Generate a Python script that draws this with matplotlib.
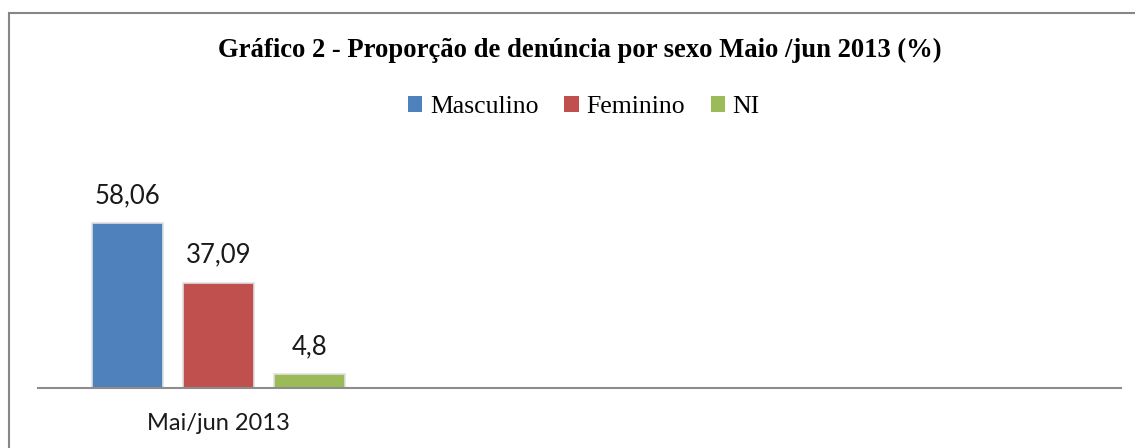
import matplotlib
matplotlib.use("Agg")
import matplotlib.pyplot as plt
from matplotlib.patches import Rectangle, Patch
import numpy as np

# Data
categories = ["Mai/jun 2013", "", ""]
series_names = ["Masculino", "Feminino", "NI"]
masculino = [58.06, np.nan, np.nan]
feminino = [37.09, np.nan, np.nan]
ni = [4.8, np.nan, np.nan]
title = "Gráfico 2 - Proporção de denúncia por sexo Maio /jun 2013 (%)"

colors = ["#4F81BD", "#C0504D", "#9BBB59"]
series = [masculino, feminino, ni]

W, H = 1135, 448
fig = plt.figure(figsize=(W / 100, H / 100), dpi=100)

# outer frame (cropped on right/bottom)
fig.patches.append(Rectangle((9 / W, -0.1), 1.2, 1 - 13 / H + 0.1,
                             transform=fig.transFigure, fill=False,
                             edgecolor="#868686", linewidth=1.5))

ax_left, ax_right = 38 / W, 1121 / W
ax_bottom, ax_top = 1 - 388 / H, 1 - 150 / H
ax = fig.add_axes([ax_left, ax_bottom, ax_right - ax_left, ax_top - ax_bottom])

x = np.arange(len(categories))
offsets = [-0.252, 0.0, 0.252]
width = 0.197
label_font = "Lato"
for vals, off, c in zip(series, offsets, colors):
    bars = ax.bar(x + off, vals, width, color=c, edgecolor="#e0e0e0", linewidth=1.2)
    for xi, v in zip(x, vals):
        if not np.isnan(v):
            ax.annotate(str(v).replace(".", ","), (xi + off, v),
                        xytext=(0, 11), textcoords="offset points",
                        ha="center", va="bottom", fontsize=18.5,
                        family=label_font, color="#1a1a1a")

ax.set_xlim(-0.5, 2.5)
ax.set_ylim(0, 84)
for s in ["top", "left", "right"]:
    ax.spines[s].set_visible(False)
ax.spines["bottom"].set_color("#8c8c8c")
ax.spines["bottom"].set_linewidth(1.5)
ax.set_yticks([])
ax.set_xticks(x)
ax.set_xticklabels(categories, fontsize=17, family=label_font, color="#1a1a1a")
ax.tick_params(axis="x", length=0, pad=18)

fig.text((38 + 1121) / 2 / W, 1 - 50 / H, title, ha="center", va="center",
         fontsize=19.2, fontweight="bold", family="Liberation Serif")

handles = [Patch(facecolor=c, edgecolor="none") for c in colors]
fig.legend(handles, series_names, loc="center", bbox_to_anchor=(584 / W, 1 - 107 / H),
           ncol=3, frameon=False, prop={"family": "Liberation Serif", "size": 18.5},
           handlelength=0.55, handleheight=0.55, handletextpad=0.3,
           columnspacing=1.0, borderaxespad=0)

fig.savefig("out.png", dpi=100)
